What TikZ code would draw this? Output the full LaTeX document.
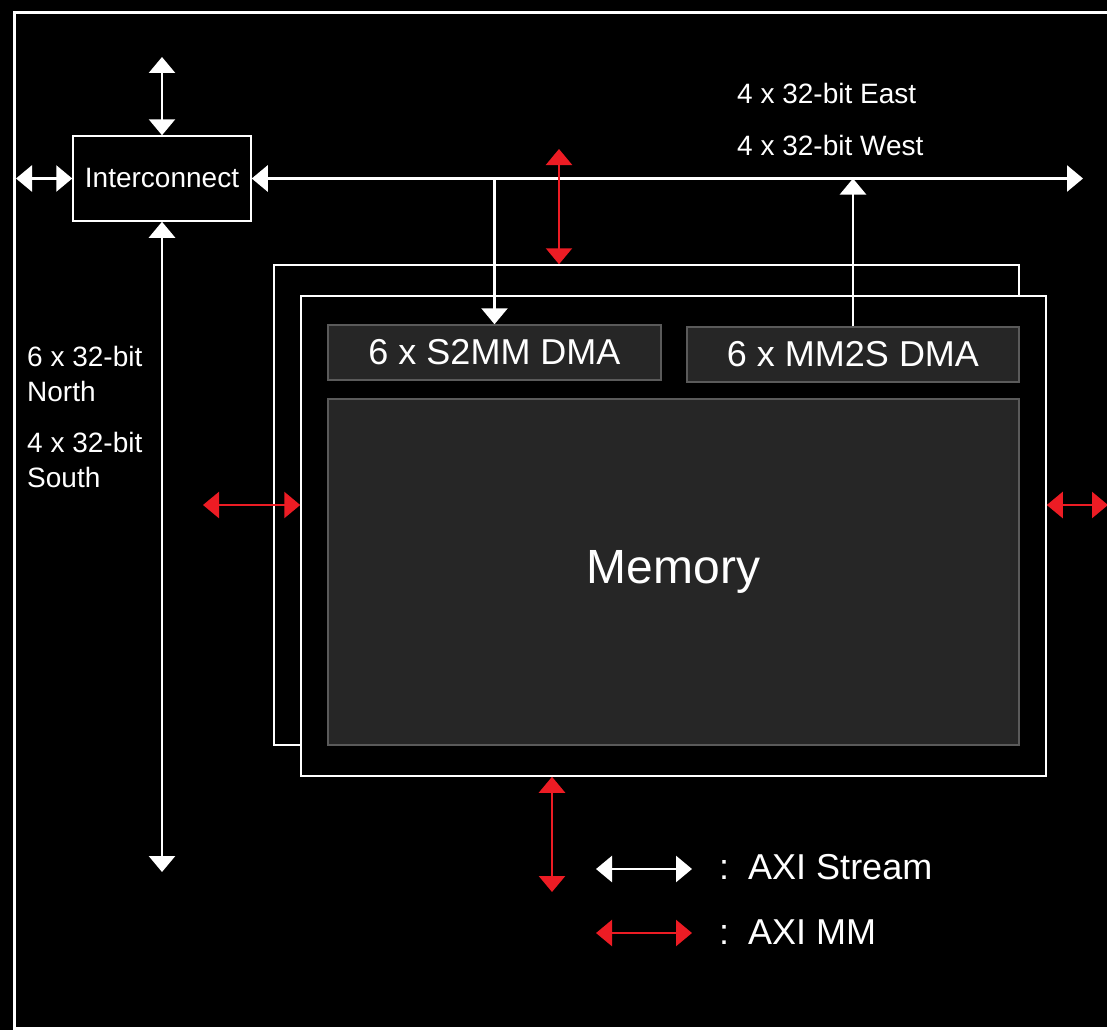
\documentclass[tikz,border=0pt]{standalone}
\usepackage{fontspec}
\setmainfont{Liberation Sans}
\usepackage{xcolor}
\usetikzlibrary{arrows.meta,positioning}
\definecolor{mmred}{HTML}{ED1C24}
\definecolor{dmafill}{HTML}{262626}
\definecolor{dmaedge}{HTML}{5A5A5A}

\begin{document}
\begin{tikzpicture}[x=1pt, y=-1pt,
      >={Triangle[width=26pt,length=16pt]},
      icbox/.style={rectangle, draw=white, line width=1.5pt, fill=black, text=white,
                    minimum width=178pt, minimum height=85pt, inner sep=0pt,
                    font=\fontsize{28}{34}\selectfont},
      tilebox/.style={rectangle, draw=white, line width=1.5pt, fill=black,
                      minimum width=745pt, minimum height=480pt, inner sep=0pt},
      dmabox/.style={rectangle, draw=dmaedge, line width=1.5pt, fill=dmafill, text=white,
                     minimum height=55pt, inner sep=0pt, font=\fontsize{36}{40}\selectfont},
      lbl/.style={text=white, inner sep=0pt, anchor=base west, align=left,
                  font=\fontsize{28}{35}\selectfont},
      stream/.style={<->, draw=white, line width=2.5pt},
      mmlink/.style={<->, draw=mmred, line width=2.5pt}]

    % background and outer frame
    \fill[black] (0,0) rectangle (1107,1030);
    \useasboundingbox (0,0) rectangle (1107,1030);
    \begin{scope}
      \clip (0,0) rectangle (1107,1030);
      \draw[white, line width=3pt] (14,13) rectangle (1114,1028);
    \end{scope}

    \node[tilebox] (back) at (646.5,505) {};
    \node[tilebox] (front) at (673.5,536) {};
    \node[dmabox, minimum width=333pt] (s2mm) at (494.5,352.5) {6 x S2MM DMA};
    \node[dmabox, minimum width=332pt] (mm2s) at (853,354.5) {6 x MM2S DMA};
    \node[dmabox, minimum width=691pt, minimum height=346pt,
          font=\fontsize{48}{50}\selectfont] (mem) at (673.5,572) {\raisebox{-4pt}{Memory}};
    \node[icbox] (ic) at (162,178.5) {Interconnect};

    \node[lbl] (east) at (737,103) {4 x 32-bit East};
    \node[lbl] (west) at (737,155) {4 x 32-bit West};
    \node[lbl] (north) at (27,401) {6 x 32-bit\\North};
    \node[lbl] (south) at (27,487) {4 x 32-bit\\South};

    % stream links
    \coordinate (nend) at (162,57);
    \coordinate (send) at (162,872);
    \coordinate (wend) at (16,178.5);
    \coordinate (eend) at (1083,178.5);
    \draw[stream] (nend) -- (ic.north);
    \draw[stream] (wend) -- (ic.west);
    \draw[stream] (ic.east) -- (eend);
    \draw[stream] (ic.south) -- (send);
    \draw[stream, ->] (s2mm.north |- ic.east) -- (s2mm.north);
    \draw[stream, ->] (mm2s.north) -- (mm2s.north |- ic.east);

    % memory mapped links
    \coordinate (mmn) at (559,149);
    \coordinate (mmw) at (203,505);
    \coordinate (mme) at (1108,505);
    \coordinate (mms) at (552,892);
    \draw[mmlink] (mmn) -- (mmn |- back.north);
    \draw[mmlink] (mmw) -- (mmw -| front.west);
    \draw[mmlink] (front.east |- mme) -- (mme);
    \draw[mmlink] (mms |- front.south) -- (mms);

    % legend
    \coordinate (k1a) at (596,869);
    \coordinate (k1b) at (692,869);
    \coordinate (k2a) at (596,933);
    \coordinate (k2b) at (692,933);
    \draw[stream] (k1a) -- (k1b);
    \draw[mmlink] (k2a) -- (k2b);
    \node[lbl, font=\fontsize{36}{40}\selectfont] (k1) at (719,879) {:\hspace{19pt}AXI Stream};
    \node[lbl, font=\fontsize{36}{40}\selectfont] (k2) at (719,944) {:\hspace{19pt}AXI MM};
  \end{tikzpicture}
\end{document}
